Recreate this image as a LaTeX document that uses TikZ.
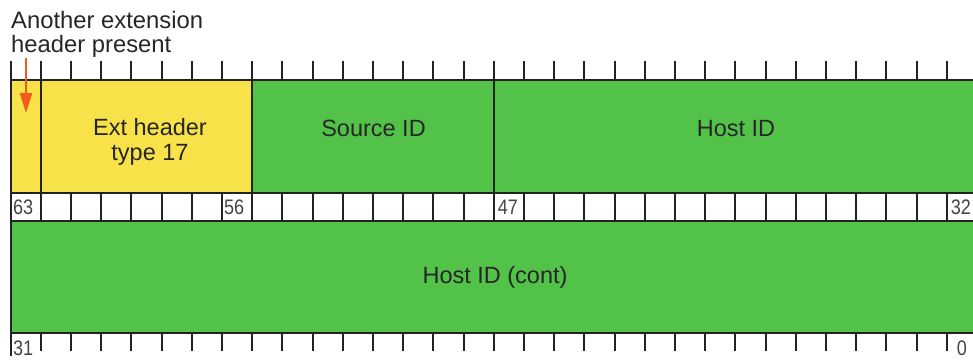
\documentclass[tikz,border=0pt]{standalone}
\usepackage{fontspec}
\setmainfont{Liberation Sans}
\newfontfamily\bitfont[FakeStretch=0.86]{Liberation Sans}
\usetikzlibrary{arrows.meta}

\definecolor{fieldyellow}{HTML}{F8E24A}
\definecolor{fieldgreen}{HTML}{53C248}
\definecolor{rulecol}{HTML}{222222}
\definecolor{ink}{HTML}{262626}
\definecolor{numgray}{HTML}{444444}
\definecolor{flagcol}{HTML}{F25A1D}

\begin{document}
\begin{tikzpicture}[x=1pt,y=-1pt,
  rulestyle/.style={draw=rulecol,line width=2pt},
  fieldlabel/.style={inner sep=0pt,text=ink,align=center,
    font=\fontsize{23.5}{25}\selectfont},
  bitnum/.style={inner sep=0pt,anchor=base west,text=numgray,
    font=\bitfont\fontsize{21}{21}\selectfont},
  notelabel/.style={inner sep=0pt,text=ink,align=left,
    font=\fontsize{23.8}{24}\selectfont},
  flagarrow/.style={draw=flagcol,line width=2.5pt,
    -{Triangle[length=20pt,width=12pt]}}]
\useasboundingbox (0,0) rectangle (973,359);

% bit geometry: 32 bits per row, bit 63/31 on the left
\def\bw{30.2}
\def\xo{10.5}
\pgfmathsetmacro{\xr}{\xo+32*\bw}

% coloured fields
\fill[fieldyellow] (\xo,80) rectangle ({\xo+8*\bw},193);
\fill[fieldgreen] ({\xo+8*\bw},80) rectangle (\xr,193);
\fill[white] (\xo,193) rectangle (\xr,221);
\fill[fieldgreen] (\xo,221) rectangle (\xr,333);

% row borders
\foreach \y in {80,193,221,333}
  \draw[rulestyle] (\xo,\y) -- (\xr,\y);
% outer edges
\draw[rulestyle] (\xo,61) -- (\xo,356);
\draw[rulestyle] (\xr,61) -- (\xr,356);
% field dividers in the first word
\foreach \i in {1,8,16}
  \draw[rulestyle] ({\xo+\i*\bw},80) -- ({\xo+\i*\bw},193);
% bit cells and tick marks
\foreach \i in {1,...,31}{
  \draw[rulestyle] ({\xo+\i*\bw},193) -- ({\xo+\i*\bw},221);
  \draw[rulestyle] ({\xo+\i*\bw},61) -- ({\xo+\i*\bw},80);
  \draw[rulestyle] ({\xo+\i*\bw},333) -- ({\xo+\i*\bw},351);
}

% field names
\node[fieldlabel,anchor=base] (ext) at (150,160) {Ext header\\type 17};
\node[fieldlabel,anchor=base] (src) at (373.5,136) {Source ID};
\node[fieldlabel,anchor=base] (host) at (736,136) {Host ID};
\node[fieldlabel,anchor=base] (hostcont) at (495,283) {Host ID (cont)};

% bit numbers
\node[bitnum] (b63) at ({\xo+2.5},214) {63};
\node[bitnum] (b56) at ({\xo+7*\bw+2},214) {56};
\node[bitnum] (b47) at ({\xo+16*\bw+4},214) {47};
\node[bitnum] (b32) at ({\xo+31*\bw+4},214) {32};
\node[bitnum] (b31) at ({\xo+2.5},355.5) {31};
\node[bitnum] (b0) at ({\xo+31*\bw+10},355.5) {0};

% flag annotation
\node[notelabel,anchor=base west] (note) at (11,52) {Another extension\\header present};
\coordinate (flagtail) at (26,58);
\coordinate (flagtip) at (26,113);
\draw[flagarrow] (flagtail) -- (flagtip);
\end{tikzpicture}
\end{document}
